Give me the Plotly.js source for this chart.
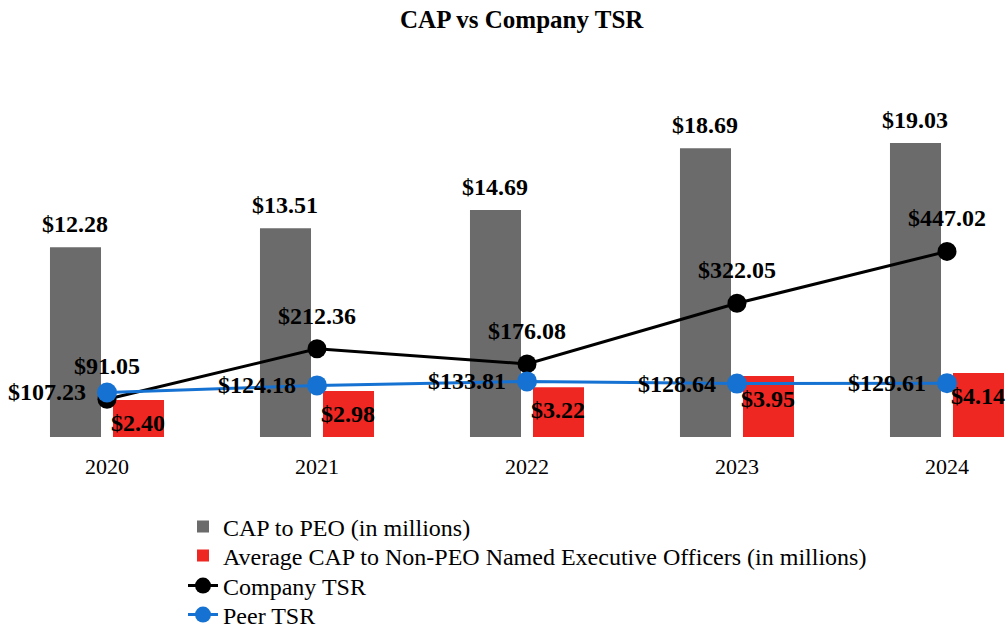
<!DOCTYPE html>
<html>
<head>
<meta charset="utf-8">
<script src="https://cdn.plot.ly/plotly-3.0.1.min.js"></script>
<style>html,body{margin:0;padding:0;background:#fff;}#chart{width:1006px;height:630px;}</style>
</head>
<body>
<div id="chart"></div>
<script>
// ---- data ----
var years = ["2020", "2021", "2022", "2023", "2024"];
var capPEO = [12.28, 13.51, 14.69, 18.69, 19.03];
var capNEO = [2.40, 2.98, 3.22, 3.95, 4.14];
var companyTSR = [91.05, 212.36, 176.08, 322.05, 447.02];
var peerTSR = [107.23, 124.18, 133.81, 128.64, 129.61];

var seriesNames = [
  "CAP to PEO (in millions)",
  "Average CAP to Non-PEO Named Executive Officers (in millions)",
  "Company TSR",
  "Peer TSR"
];

function money(v) { return "$" + v.toFixed(2); }

var FONT = "Liberation Serif";
var GRAY = "#6b6b6b", RED = "#ee2722", BLACK = "#000000", BLUE = "#1672d2";

var traces = [
  { type: "bar", name: seriesNames[0], x: years, y: capPEO, yaxis: "y", legend: "legend",
    marker: { color: GRAY }, hoverinfo: "skip" },
  { type: "bar", name: seriesNames[1], x: years, y: capNEO, yaxis: "y", legend: "legend2",
    marker: { color: RED }, hoverinfo: "skip" },
  { type: "scatter", mode: "lines+markers", name: seriesNames[2], x: years, y: companyTSR, yaxis: "y2", legend: "legend3",
    line: { color: BLACK, width: 3 }, marker: { color: BLACK, size: 19 }, hoverinfo: "skip" },
  { type: "scatter", mode: "lines+markers", name: seriesNames[3], x: years, y: peerTSR, yaxis: "y2", legend: "legend4",
    line: { color: BLUE, width: 3 }, marker: { color: BLUE, size: 20 }, hoverinfo: "skip" }
];

var labelFont = { family: FONT, size: 24, color: "#000", weight: "bold" };
var annotations = [];
for (var i = 0; i < years.length; i++) {
  annotations.push({ x: i, y: capPEO[i], xref: "x", yref: "y", text: money(capPEO[i]),
    showarrow: false, xshift: -31.5, yshift: 23, yanchor: "middle", xanchor: "center", font: labelFont });
  annotations.push({ x: i, y: capNEO[i], xref: "x", yref: "y", text: money(capNEO[i]),
    showarrow: false, xshift: 31.5, yshift: -23, yanchor: "middle", xanchor: "center", font: labelFont });
  annotations.push({ x: i, y: companyTSR[i], xref: "x", yref: "y2", text: money(companyTSR[i]),
    showarrow: false, yshift: 33, yanchor: "middle", xanchor: "center", font: labelFont });
  annotations.push({ x: i, y: peerTSR[i], xref: "x", yref: "y2", text: money(peerTSR[i]),
    showarrow: false, xshift: -19, yanchor: "middle", xanchor: "right", font: labelFont });
}

function legendAt(topPx) {
  return { orientation: "v", x: 183 / 1006, xanchor: "left", xref: "paper",
    y: 1 - topPx / 630, yanchor: "middle", yref: "container",
    font: { family: FONT, size: 24, color: "#000" }, bgcolor: "rgba(0,0,0,0)",
    itemclick: false, itemdoubleclick: false };
}

var layout = {
  width: 1006, height: 630,
  margin: { l: 0, r: 0, t: 60, b: 193, pad: 0 },
  paper_bgcolor: "#ffffff", plot_bgcolor: "#ffffff",
  font: { family: FONT, color: "#000" },
  title: { text: "CAP vs Company TSR", x: 0.5186, xanchor: "center", xref: "container",
    y: 1 - 19 / 630, yanchor: "middle", yref: "container",
    font: { family: FONT, size: 25, color: "#000", weight: "bold" } },
  barmode: "group", bargap: 0.4, bargroupgap: 0.19,
  xaxis: { type: "category", range: [-0.5095, 4.281], showgrid: false, zeroline: false,
    showline: false, ticks: "", ticklabelstandoff: 14,
    tickfont: { family: FONT, size: 22, color: "#000" }, fixedrange: true },
  yaxis: { range: [0, 24.40], visible: false, showgrid: false, zeroline: false, fixedrange: true },
  yaxis2: { range: [0, 908], overlaying: "y", side: "right", visible: false,
    showgrid: false, zeroline: false, fixedrange: true },
  showlegend: true,
  legend: legendAt(527),
  legend2: legendAt(556),
  legend3: legendAt(586),
  legend4: legendAt(615),
  annotations: annotations
};

Plotly.newPlot("chart", traces, layout, { displayModeBar: false });
</script>
</body>
</html>
